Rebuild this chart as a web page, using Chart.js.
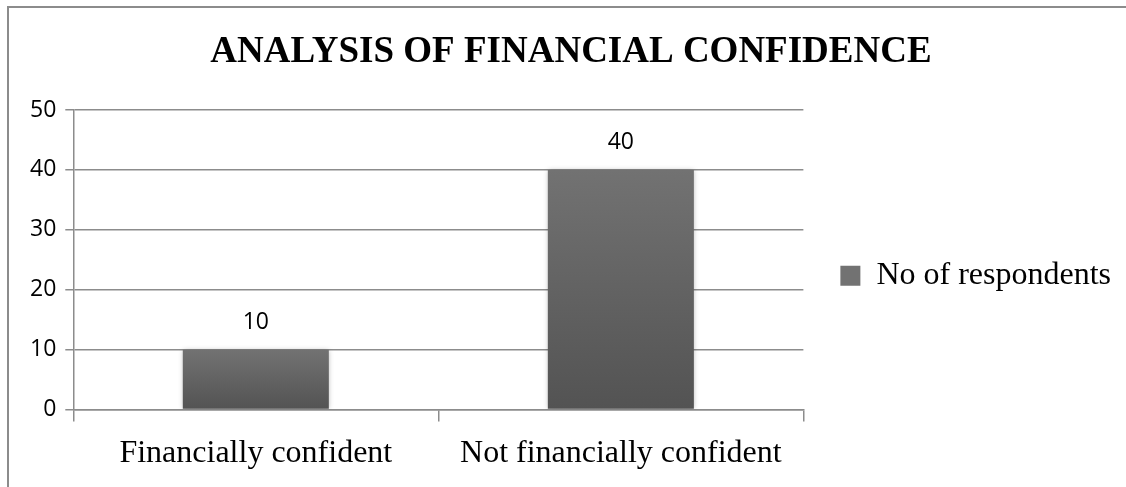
<!DOCTYPE html>
<html>
<head>
<meta charset="utf-8">
<title>Analysis of financial confidence</title>
<script src="https://cdn.jsdelivr.net/npm/chart.js@4.4.1/dist/chart.umd.min.js"></script>
<style>
  html, body { margin: 0; padding: 0; background: #fff; overflow: hidden; }
  /* marco gris del gráfico */
  #frame { position: absolute; left: 7px; top: 6px; width: 1300px; height: 700px; border: 2px solid #8c8c8c; }
  #wrap { position: absolute; left: 0; top: 0; width: 1126px; height: 487px; }
</style>
</head>
<body>
<div id="frame"></div>
<div id="wrap"><canvas id="chart"></canvas></div>
<script>
// Datos del gráfico
const categories = ["Financially confident", "Not financially confident"];
const respondents = [10, 40];
const seriesName = "No of respondents";
const yTicks = [0, 10, 20, 30, 40, 50];

const serif = "'Liberation Serif', 'Times New Roman', serif";
const sans = "'Open Sans', 'Noto Sans', sans-serif";
const gridColor = "#8c8c8c";

// Degradado vertical de cada barra, calculado con la escala Y
function barFill(context) {
  const chart = context.chart;
  if (context.type !== "data" || !chart.chartArea) return "#666666";
  const y = chart.scales.y;
  const top = y.getPixelForValue(respondents[context.dataIndex]);
  const bottom = y.getPixelForValue(0);
  const g = chart.ctx.createLinearGradient(0, top, 0, bottom);
  g.addColorStop(0, "#727272");
  g.addColorStop(1, "#535353");
  return g;
}

// La leyenda de la derecha necesita más ancho que el límite por defecto
const wideLegend = {
  id: "wideLegend",
  beforeLayout(chart) {
    const legend = chart.legend;
    if (!legend || legend._wideFit) return;
    const fit = legend.fit.bind(legend);
    legend.fit = function () {
      this.maxWidth = Math.max(this.maxWidth, 400);
      fit();
    };
    legend._wideFit = true;
  }
};

// Sombra suave alrededor de las barras
const barShadow = {
  id: "barShadow",
  beforeDatasetsDraw(chart) {
    const ctx = chart.ctx;
    ctx.save();
    ctx.shadowColor = "rgba(0, 0, 0, 0.3)";
    ctx.shadowBlur = 5;
    ctx.shadowOffsetX = 0;
    ctx.shadowOffsetY = 0;
  },
  afterDatasetsDraw(chart) {
    chart.ctx.restore();
  }
};

// Etiquetas con el valor encima de cada barra
const valueLabels = {
  id: "valueLabels",
  afterDatasetsDraw(chart) {
    const ctx = chart.ctx;
    const meta = chart.getDatasetMeta(0);
    ctx.save();
    ctx.font = "23px " + sans;
    ctx.fillStyle = "#000";
    ctx.textAlign = "center";
    ctx.textBaseline = "middle";
    meta.data.forEach((bar, i) => {
      ctx.fillText(String(respondents[i]), bar.x, bar.y - 27);
    });
    ctx.restore();
  }
};

new Chart(document.getElementById("chart"), {
  type: "bar",
  data: {
    labels: categories,
    datasets: [{
      label: seriesName,
      data: respondents,
      backgroundColor: barFill,
      borderWidth: 0,
      categoryPercentage: 1,
      barPercentage: 0.4
    }]
  },
  options: {
    responsive: true,
    maintainAspectRatio: false,
    animation: false,
    layout: { padding: { left: 21, right: 5, top: 0, bottom: 1 } },
    plugins: {
      tooltip: { enabled: false },
      title: {
        display: true,
        text: "ANALYSIS OF FINANCIAL CONFIDENCE",
        color: "#000",
        font: { family: serif, size: 37, weight: "bold" },
        padding: { top: 30, bottom: 35.6 }
      },
      legend: {
        position: "right",
        fullSize: false,
        title: { display: true, text: "", font: { size: 10 }, padding: { top: 10, bottom: 10 } },
        labels: {
          boxWidth: 20,
          boxHeight: 20,
          padding: 37,
          color: "#000",
          font: { family: serif, size: 32 }
        }
      }
    },
    scales: {
      x: {
        grid: {
          display: true,
          drawOnChartArea: false,
          drawTicks: true,
          tickLength: 12,
          color: gridColor,
          lineWidth: 1.5
        },
        border: { display: true, color: gridColor, width: 1.5 },
        ticks: {
          color: "#000",
          padding: 13,
          font: { family: serif, size: 32 }
        }
      },
      y: {
        min: 0,
        max: 50,
        afterBuildTicks: axis => { axis.ticks = yTicks.map(v => ({ value: v })); },
        grid: {
          color: gridColor,
          lineWidth: 1.5,
          tickLength: 8
        },
        border: { display: true, color: gridColor, width: 1.5 },
        ticks: {
          color: "#000",
          padding: 9,
          font: { family: sans, size: 23 }
        }
      }
    }
  },
  plugins: [wideLegend, barShadow, valueLabels]
});
</script>
</body>
</html>
